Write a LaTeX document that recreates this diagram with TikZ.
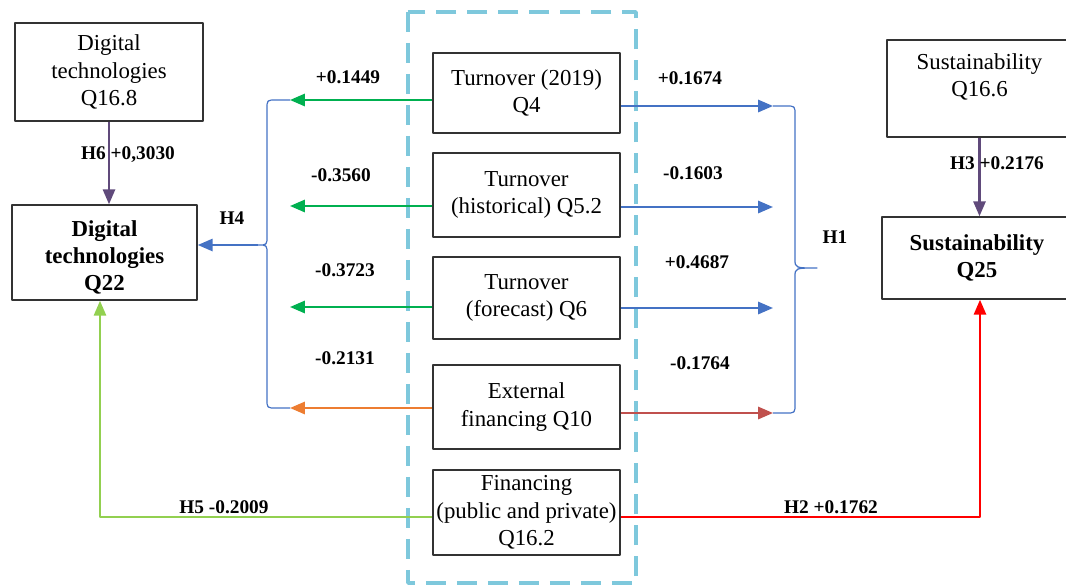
\documentclass[tikz,border=0pt]{standalone}
\usepackage{fontspec}
\setmainfont{Liberation Serif}
\usetikzlibrary{arrows.meta}
\definecolor{hgreen}{RGB}{0,176,80}
\definecolor{horange}{RGB}{237,125,49}
\definecolor{hblue}{RGB}{68,114,196}
\definecolor{hdarkred}{RGB}{192,80,77}
\definecolor{hred}{RGB}{255,0,0}
\definecolor{hlime}{RGB}{146,208,80}
\definecolor{hpurple}{RGB}{96,74,123}
\definecolor{hdash}{RGB}{126,200,220}
\begin{document}
\begin{tikzpicture}[x=0.02cm, y=-0.02cm, >={Triangle[length=8.5pt,width=7pt]}, line join=round,
    box/.style={draw=black!80, line width=0.9pt, align=center, inner sep=0pt, font=\fontsize{13}{15.6}\selectfont},
    boldbox/.style={box, font=\fontsize{13}{15.6}\selectfont\bfseries},
    lbl/.style={font=\fontsize{11}{13}\selectfont\bfseries},
    link/.style={line width=1.2pt, ->},
    bbrace/.style={hblue, line width=0.7pt},
    dashbox/.style={hdash, line width=2pt, dash pattern=on 0.4cm off 0.22cm}]
  \useasboundingbox (0,0) rectangle (1066,585);
  % group of predictors
  \draw[dashbox] (408,12) rectangle (636,583);
  % boxes
  \node[box, minimum width=3.76cm, minimum height=1.96cm] (dtin) at (109,72) {Digital\\technologies\\Q16.8};
  \node[boldbox, minimum width=3.7cm, minimum height=1.9cm] (dtout) at (104.5,252.5) {\strut\\[-12pt]Digital\\technologies\\Q22};
  \node[box, minimum width=3.74cm, minimum height=1.6cm] (to19) at (526.5,93) {Turnover (2019)\\Q4};
  \node[box, minimum width=3.74cm, minimum height=1.68cm] (tohist) at (526.5,195) {Turnover\\(historical) Q5.2};
  \node[box, minimum width=3.74cm, minimum height=1.64cm] (tofc) at (526.5,298) {Turnover\\(forecast) Q6};
  \node[box, minimum width=3.74cm, minimum height=1.68cm] (extfin) at (526.5,407) {External\\financing Q10};
  \node[box, minimum width=3.74cm, minimum height=1.7cm] (fin) at (526.5,512.5) {Financing\\(public and private)\\Q16.2};
  \node[box, minimum width=3.7cm, minimum height=1.94cm] (susin) at (979.5,88.5) {Sustainability\\Q16.6\\[-5pt]\strut};
  \node[boldbox, minimum width=3.8cm, minimum height=1.64cm] (susout) at (977,258) {Sustainability\\Q25};
  % brace ends
  \coordinate (tl1) at (290,100);
  \coordinate (tl2) at (290,206);
  \coordinate (tl3) at (290,307);
  \coordinate (tl4) at (290,408);
  \coordinate (bl) at (258,245);
  \coordinate (tr1) at (773,106);
  \coordinate (tr2) at (773,207);
  \coordinate (tr3) at (773,308);
  \coordinate (tr4) at (773,413);
  \coordinate (br) at (817,268);
  \coordinate (h5c) at (100,517);
  \coordinate (h2c) at (980,517);
  % H4
  \draw[link, hgreen] (to19.west |- tl1) -- (tl1);
  \draw[link, hgreen] (tohist.west |- tl2) -- (tl2);
  \draw[link, hgreen] (tofc.west |- tl3) -- (tl3);
  \draw[link, horange] (extfin.west |- tl4) -- (tl4);
  \draw[bbrace] (tl1) -- (276,100) .. controls (267,100) .. (267,109) -- (267,236) .. controls (267,245) .. (bl)
    .. controls (267,245) .. (267,254) -- (267,399) .. controls (267,408) .. (276,408) -- (tl4);
  \draw[link, hblue] (bl) -- (bl -| dtout.east);
  % H1
  \draw[link, hblue] (to19.east |- tr1) -- (tr1);
  \draw[link, hblue] (tohist.east |- tr2) -- (tr2);
  \draw[link, hblue] (tofc.east |- tr3) -- (tr3);
  \draw[link, hdarkred] (extfin.east |- tr4) -- (tr4);
  \draw[bbrace] (tr1) -- (786,106) .. controls (795,106) .. (795,115) -- (795,259) .. controls (795,268) .. (br)
    .. controls (795,268) .. (795,277) -- (795,404) .. controls (795,413) .. (786,413) -- (tr4);
  % H6, H3
  \draw[link, hpurple] (dtin.south) -- (dtin.south |- dtout.north);
  \draw[link, hpurple] (susin.south) -- (susin.south |- susout.north);
  % H5, H2
  \draw[link, hlime] (fin.west |- h5c) -- (h5c) -- (h5c |- dtout.south);
  \draw[link, hred] (fin.east |- h2c) -- (h2c) -- (h2c |- susout.south);
  % labels
  \node[lbl] (l1) at (348,77) {+0.1449};
  \node[lbl] (l2) at (341,175) {-0.3560};
  \node[lbl] (l3) at (345,270) {-0.3723};
  \node[lbl] (l4) at (345,358) {-0.2131};
  \node[lbl] (h4) at (232,218) {H4};
  \node[lbl] (r1) at (690,78) {+0.1674};
  \node[lbl] (r2) at (693,173) {-0.1603};
  \node[lbl] (r3) at (697,262) {+0.4687};
  \node[lbl] (r4) at (700,363) {-0.1764};
  \node[lbl] (h1) at (835,237) {H1};
  \node[lbl] (h6) at (128,155) {H6 +0,3030};
  \node[lbl] (h3) at (997,163) {H3 +0.2176};
  \node[lbl] (h5) at (224,507) {H5 -0.2009};
  \node[lbl] (h2) at (831,507) {H2 +0.1762};
\end{tikzpicture}
\end{document}
